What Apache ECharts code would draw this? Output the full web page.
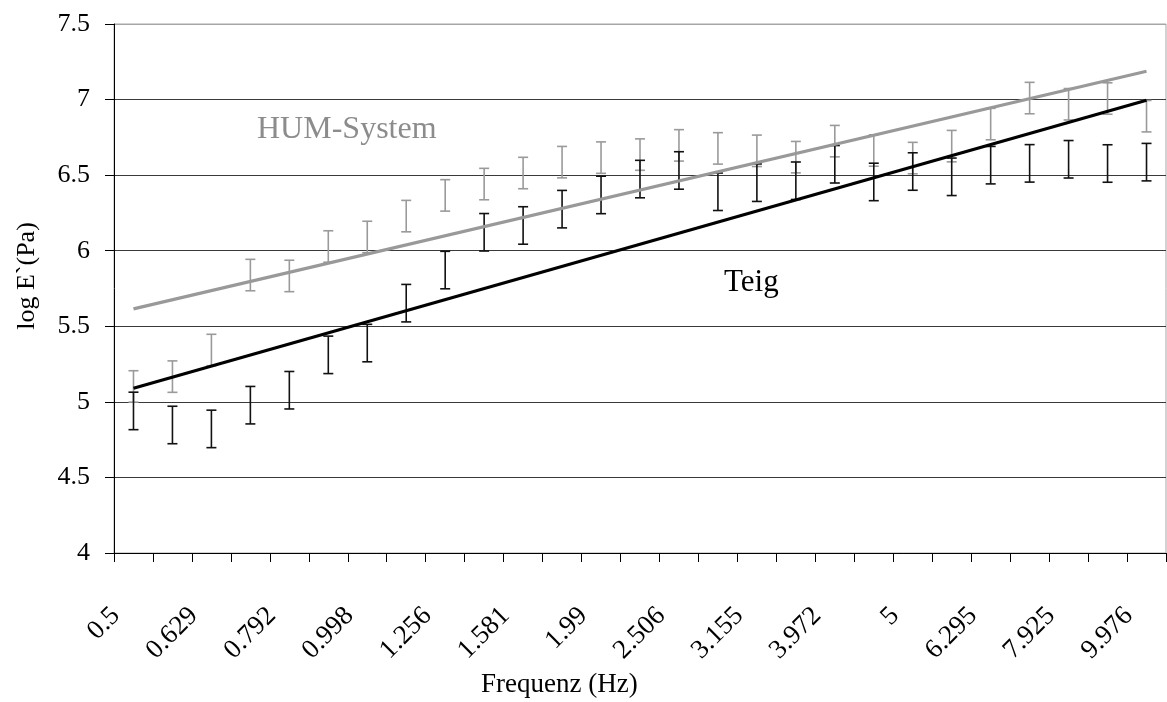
<!DOCTYPE html>
<html>
<head>
<meta charset="utf-8">
<script src="https://cdn.jsdelivr.net/npm/echarts@6/dist/echarts.min.js"></script>
<style>
  html, body { margin: 0; padding: 0; background: #fff; }
  #chart { width: 1167px; height: 702px; }
</style>
</head>
<body>
<div id="chart"></div>
<script>
// Frequency steps of the sweep (Hz); every other one is labelled
const frequencies = ['0.5', '0.561', '0.629', '0.706', '0.792', '0.889', '0.998', '1.12', '1.256', '1.409',
  '1.581', '1.774', '1.99', '2.233', '2.506', '2.812', '3.155', '3.54', '3.972', '4.456',
  '5', '5.61', '6.295', '7.063', '7.925', '8.891', '9.976'];

// Mean log E' of the dough (Teig)
const teigMean = [4.94, 4.847, 4.821, 4.978, 5.077, 5.311, 5.389, 5.653, 5.872, 6.122,
  6.167, 6.275, 6.369, 6.474, 6.531, 6.39, 6.45, 6.463, 6.572, 6.455,
  6.524, 6.489, 6.566, 6.578, 6.605, 6.577, 6.586];
// Mean log E' of the HUM-System
const humMean = [5.102, 5.167, 5.343, 5.839, 5.833, 6.028, 6.091, 6.229, 6.366, 6.441,
  6.514, 6.586, 6.616, 6.636, 6.697, 6.677, 6.661, 6.619, 6.725, 6.663,
  6.613, 6.692, 6.838, 7.01, 6.969, 7.007, 6.89];
// Standard deviations (error bar half lengths)
const teigErr = 0.124;
const humErr = 0.104;

// Linear trend lines: value at first and last frequency step
const teigTrend = [5.09, 6.995];
const humTrend = [5.615, 7.187];

// Y axis ticks
const yTicks = [4, 4.5, 5, 5.5, 6, 6.5, 7, 7.5];

const FONT = 'Liberation Serif';

function errorData(means, err) {
  return means.map((m, i) => [i, m - err, m + err]);
}

function trendData(ends) {
  return [[0, ends[0]], [frequencies.length - 1, ends[1]]];
}

function errorBarRenderer(color, width) {
  return function (params, api) {
    const x = api.value(0);
    const top = api.coord([x, api.value(2)]);
    const bottom = api.coord([x, api.value(1)]);
    const half = 5;
    const style = { stroke: color, lineWidth: width };
    return {
      type: 'group',
      children: [
        { type: 'line', shape: { x1: top[0], y1: top[1], x2: bottom[0], y2: bottom[1] }, style },
        { type: 'line', shape: { x1: top[0] - half, y1: top[1], x2: top[0] + half, y2: top[1] }, style },
        { type: 'line', shape: { x1: bottom[0] - half, y1: bottom[1], x2: bottom[0] + half, y2: bottom[1] }, style }
      ]
    };
  };
}

const splitColors = yTicks.map((t, i) => i === yTicks.length - 1 ? '#a6a6a6' : '#3a3a3a');

const chart = echarts.init(document.getElementById('chart'));
chart.setOption({
  animation: false,
  backgroundColor: '#ffffff',
  grid: {
    left: 114, right: 1, top: 24, bottom: 149,
    outerBoundsMode: 'none',
    containLabel: false,
    show: true, borderColor: '#a6a6a6', borderWidth: 1
  },
  xAxis: {
    type: 'category',
    data: frequencies,
    boundaryGap: true,
    axisLine: { lineStyle: { color: '#000', width: 1 } },
    axisTick: { show: true, interval: 0, length: 9, lineStyle: { color: '#000' } },
    axisLabel: {
      interval: 1,
      rotate: 45,
      margin: 41,
      color: '#000',
      fontFamily: FONT,
      fontSize: 27,
      formatter: v => '{t|' + v + '}',
      rich: { t: { fontFamily: FONT, fontSize: 27, color: '#000', padding: [0, 25, 0, 0] } }
    },
    splitLine: { show: false }
  },
  yAxis: {
    type: 'value',
    min: 4, max: 7.5, interval: 0.5,
    axisLine: { show: true, lineStyle: { color: '#000', width: 1 } },
    axisTick: { show: true, length: 9, lineStyle: { color: '#000' } },
    axisLabel: { margin: 24, color: '#000', fontFamily: FONT, fontSize: 26 },
    splitLine: { show: true, lineStyle: { color: splitColors, width: 1 } }
  },
  series: [
    {
      name: 'HUM-System SD', type: 'custom',
      renderItem: errorBarRenderer('#9a9a9a', 1.6),
      data: errorData(humMean, humErr), z: 2
    },
    {
      name: 'Teig SD', type: 'custom',
      renderItem: errorBarRenderer('#111111', 1.6),
      data: errorData(teigMean, teigErr), z: 3
    },
    {
      name: 'HUM-System', type: 'line',
      data: trendData(humTrend),
      showSymbol: false, symbol: 'none',
      lineStyle: { color: '#999999', width: 3.2 }, z: 4
    },
    {
      name: 'Teig', type: 'line',
      data: trendData(teigTrend),
      showSymbol: false, symbol: 'none',
      lineStyle: { color: '#000000', width: 3.2 }, z: 5
    }
  ],
  graphic: [
    {
      type: 'text', left: 257, top: 114,
      style: { text: 'HUM-System', fontFamily: FONT, fontSize: 32, fill: '#8c8c8c' }
    },
    {
      type: 'text', left: 724, top: 267,
      style: { text: 'Teig', fontFamily: FONT, fontSize: 31, fill: '#000' }
    },
    {
      type: 'text', left: 481, top: 671,
      style: { text: 'Frequenz (Hz)', fontFamily: FONT, fontSize: 27, fill: '#000' }
    },
    {
      type: 'text', x: 27, y: 276, rotation: Math.PI / 2,
      style: {
        text: 'log E`(Pa)', fontFamily: FONT, fontSize: 26, fill: '#000',
        align: 'center', verticalAlign: 'middle'
      }
    }
  ]
});
</script>
</body>
</html>
